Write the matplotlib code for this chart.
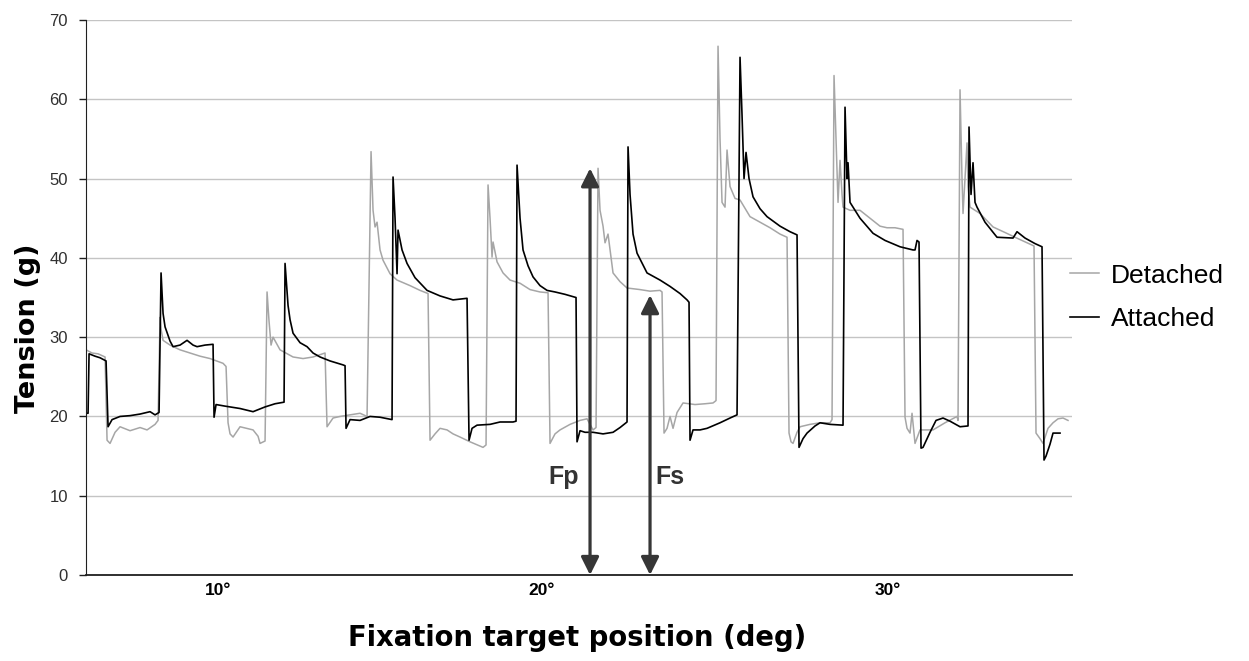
"""
Tension traces, detached vs attached, across fixation target positions.
"""

import matplotlib
matplotlib.use("Agg")
import matplotlib.pyplot as plt

#######################################################
# DATA (time in samples, tension in g)

detached_t = [
    0, 6, 12, 19,
    21, 24, 29, 34, 44, 54, 61, 69, 72,
    74, 75, 77, 84, 94, 104, 114, 124, 137, 140,
    142, 144, 147, 154, 167, 172, 174, 179,
    181, 183, 185, 187, 194, 207, 217, 227, 239,
    241, 247, 254, 264, 274, 281,
    285, 287, 289, 291, 294, 297, 304, 311, 324, 334, 342,
    344, 349, 354, 361, 367, 374, 384, 397, 400,
    402, 404, 406, 407, 411, 417, 424, 434, 444, 454, 462,
    464, 469, 474, 484, 494, 501, 507, 510,
    512, 514, 517, 519, 522, 527, 534, 541, 554, 564, 574, 576,
    578, 581, 584, 587, 591, 597, 609, 619, 627, 630,
    632, 634, 636, 639, 641, 644, 649, 654, 664, 674, 684, 694, 701,
    703, 705, 707, 711, 714, 724, 734, 744, 746,
    748, 750, 752, 754, 756, 757, 764, 774, 784, 794, 801, 809, 817,
    819, 821, 824, 826, 829, 834, 847, 859, 871, 872,
    874, 876, 877, 879, 881, 882, 884, 894, 907, 919, 929, 941, 948,
    950, 954, 957, 962, 967, 972, 977, 982,
]
detached_v = [
    28.4, 28.0, 27.9, 27.5,
    17.0, 16.6, 18.0, 18.7, 18.2, 18.6, 18.3, 19.0, 19.5,
    32.5, 31.0, 29.6, 29.0, 28.4, 28.0, 27.6, 27.3, 26.7, 26.3,
    19.2, 17.8, 17.4, 18.7, 18.3, 17.5, 16.6, 16.9,
    35.7, 32.0, 29.0, 30.0, 28.4, 27.5, 27.3, 27.5, 28.0,
    18.7, 19.8, 20.0, 20.2, 20.4, 20.0,
    53.4, 46.0, 43.9, 44.5, 41.0, 39.7, 38.0, 37.2, 36.5, 35.9, 35.5,
    17.0, 17.8, 18.5, 18.3, 17.8, 17.4, 16.8, 16.1, 16.4,
    49.2, 45.0, 40.1, 42.0, 39.5, 38.1, 37.2, 36.8, 36.0, 35.7, 35.6,
    16.6, 17.8, 18.3, 19.0, 19.5, 19.7, 18.3, 18.6,
    51.3, 46.0, 44.0, 41.9, 43.0, 38.1, 37.0, 36.2, 36.0, 35.8, 35.9, 35.7,
    17.9, 18.5, 20.0, 18.5, 20.5, 21.7, 21.5, 21.6, 21.7, 22.0,
    66.7, 55.0, 47.0, 46.4, 53.6, 49.0, 47.5, 47.3, 45.2, 44.5, 43.8, 43.0, 42.6,
    17.9, 16.8, 16.6, 18.0, 18.7, 19.0, 19.2, 19.2, 19.6,
    63.0, 55.0, 47.0, 52.3, 48.0, 46.4, 46.0, 46.0, 45.0, 44.0, 43.8, 43.8, 43.6,
    19.9, 18.5, 17.9, 20.4, 16.6, 18.3, 18.3, 19.2, 20.0, 19.5,
    61.2, 50.0, 45.6, 50.0, 54.5, 49.0, 46.4, 45.6, 43.9, 43.2, 42.6, 41.9, 41.5,
    17.9, 17.2, 16.6, 18.5, 19.2, 19.7, 19.8, 19.5,
]

attached_t = [
    0, 2, 3, 9, 14, 20,
    22, 26, 34, 44, 54, 64, 69, 73,
    75, 77, 79, 84, 87, 94, 101, 107, 111, 119, 127,
    128, 130, 139, 154, 167, 179, 189, 198,
    199, 202, 204, 207, 214, 221, 227, 234, 244, 257, 259,
    260, 264, 274, 284, 294, 306,
    307, 309, 311, 312, 316, 321, 329, 341, 354, 367, 381,
    383, 386, 391, 404, 414, 427, 430,
    431, 434, 437, 442, 447, 454, 461, 469, 479, 487, 490,
    491, 494, 499, 507, 517, 527, 534, 541,
    542, 544, 547, 551, 561, 574, 584, 594, 601, 603,
    604, 607, 614, 621, 634, 644, 651,
    654, 656, 658, 660, 663, 667, 674, 681, 694, 704, 711,
    713, 717, 721, 729, 734, 744, 757,
    759, 761, 762, 764, 767, 774, 787, 799, 814, 827, 829, 831, 833,
    835, 837, 844, 850, 857, 864, 874, 882,
    883, 885, 887, 889, 891, 899, 911, 927, 931, 939, 949, 956,
    958, 960, 964, 967, 974,
]
attached_v = [
    20.4, 20.4, 27.9, 27.6, 27.4, 27.0,
    18.7, 19.6, 20.0, 20.1, 20.3, 20.6, 20.2, 20.5,
    38.1, 33.0, 31.3, 29.5, 28.8, 29.0, 29.6, 29.0, 28.8, 29.0, 29.1,
    19.9, 21.5, 21.3, 21.0, 20.6, 21.2, 21.6, 21.8,
    39.3, 34.0, 32.2, 30.5, 29.3, 28.8, 28.0, 27.5, 27.0, 26.5, 26.4,
    18.5, 19.6, 19.5, 20.0, 19.9, 19.6,
    50.2, 45.0, 38.0, 43.5, 41.0, 39.3, 37.5, 35.9, 35.2, 34.7, 34.9,
    17.0, 18.5, 18.9, 19.0, 19.3, 19.3, 19.4,
    51.7, 45.0, 41.0, 39.0, 37.6, 36.5, 35.9, 35.7, 35.4, 35.1, 35.0,
    16.8, 18.2, 18.0, 18.0, 17.8, 18.0, 18.6, 19.3,
    54.0, 48.0, 43.0, 40.6, 38.1, 37.2, 36.4, 35.5, 34.7, 34.4,
    17.0, 18.3, 18.3, 18.5, 19.2, 19.8, 20.2,
    65.3, 58.0, 50.0, 53.3, 50.0, 47.7, 46.2, 45.2, 44.0, 43.3, 42.9,
    16.1, 17.2, 17.9, 18.8, 19.2, 19.0, 18.9,
    59.0, 50.0, 52.0, 47.0, 46.4, 45.0, 43.1, 42.2, 41.4, 41.0, 41.0, 42.2, 42.0,
    16.0, 16.1, 18.0, 19.5, 19.8, 19.4, 18.7, 18.8,
    56.5, 48.0, 52.0, 47.0, 46.4, 44.5, 42.6, 42.5, 43.3, 42.5, 41.8, 41.4,
    14.5, 15.0, 16.5, 17.9, 17.9,
]

position_ticks = [132, 456, 802]
position_labels = ["10°", "20°", "30°"]

# Fp / Fs markers (sample, tension)
fp_t, fp_v = 504, 51.3
fs_t, fs_v = 564, 35.3

#######################################################
# FIGURE

fig = plt.figure(figsize=(12.49, 6.61), dpi=100)
ax = fig.add_axes([0.0689, 0.1301, 0.7894, 0.8396])

ax.plot(detached_t, detached_v, color="#a6a6a6", lw=1.1, label="Detached")
ax.plot(attached_t, attached_v, color="black", lw=1.2, label="Attached")

ax.set_xlim(0, 986)
ax.set_ylim(0, 70)

ax.set_yticks(range(0, 71, 10))
ax.yaxis.grid(True, color="#c4c4c4", lw=1)
ax.set_axisbelow(True)

for side in ["top", "right"]:
    ax.spines[side].set_visible(False)
ax.spines["left"].set_color("#202020")
ax.spines["bottom"].set_color("#202020")
ax.spines["bottom"].set_linewidth(1.3)

ax.tick_params(axis="y", length=5, width=1, color="#202020",
               pad=8, labelsize=12, labelcolor="#303030")
ax.set_xticks(position_ticks)
ax.set_xticklabels(position_labels, fontweight="bold", fontsize=12.5)
ax.tick_params(axis="x", length=0, pad=6)

for lab in ax.get_yticklabels() + ax.get_xticklabels():
    lab.set_family("Liberation Sans")

# arrows for Fp and Fs
for t, v in [(fp_t, fp_v), (fs_t, fs_v)]:
    ax.annotate(
        "", xy=(t, v), xytext=(t, 0),
        arrowprops=dict(arrowstyle="<|-|>", color="#363636", lw=2.3,
                        mutation_scale=27, shrinkA=0, shrinkB=0),
    )

ax.text(478, 12.4, "Fp", ha="center", va="center", fontsize=18,
        fontweight="bold", color="#333333", family="Liberation Sans")
ax.text(584, 12.4, "Fs", ha="center", va="center", fontsize=18,
        fontweight="bold", color="#333333", family="Liberation Sans")

ax.set_xlabel("Fixation target position (deg)", fontsize=19.8,
              fontweight="bold")
ax.xaxis.set_label_coords(0.498, -0.088)
ax.set_ylabel("Tension (g)", fontsize=19.5, fontweight="bold")
ax.yaxis.set_label_coords(-0.046, 0.445)

ax.legend(
    loc="center left",
    bbox_to_anchor=(0.998, 0.5),
    frameon=False,
    borderaxespad=0,
    borderpad=0,
    handlelength=1.1,
    handletextpad=0.45,
    labelspacing=0.75,
    prop={"family": "Liberation Sans", "size": 19},
)

plt.savefig("out.png", dpi=100)
plt.close()
